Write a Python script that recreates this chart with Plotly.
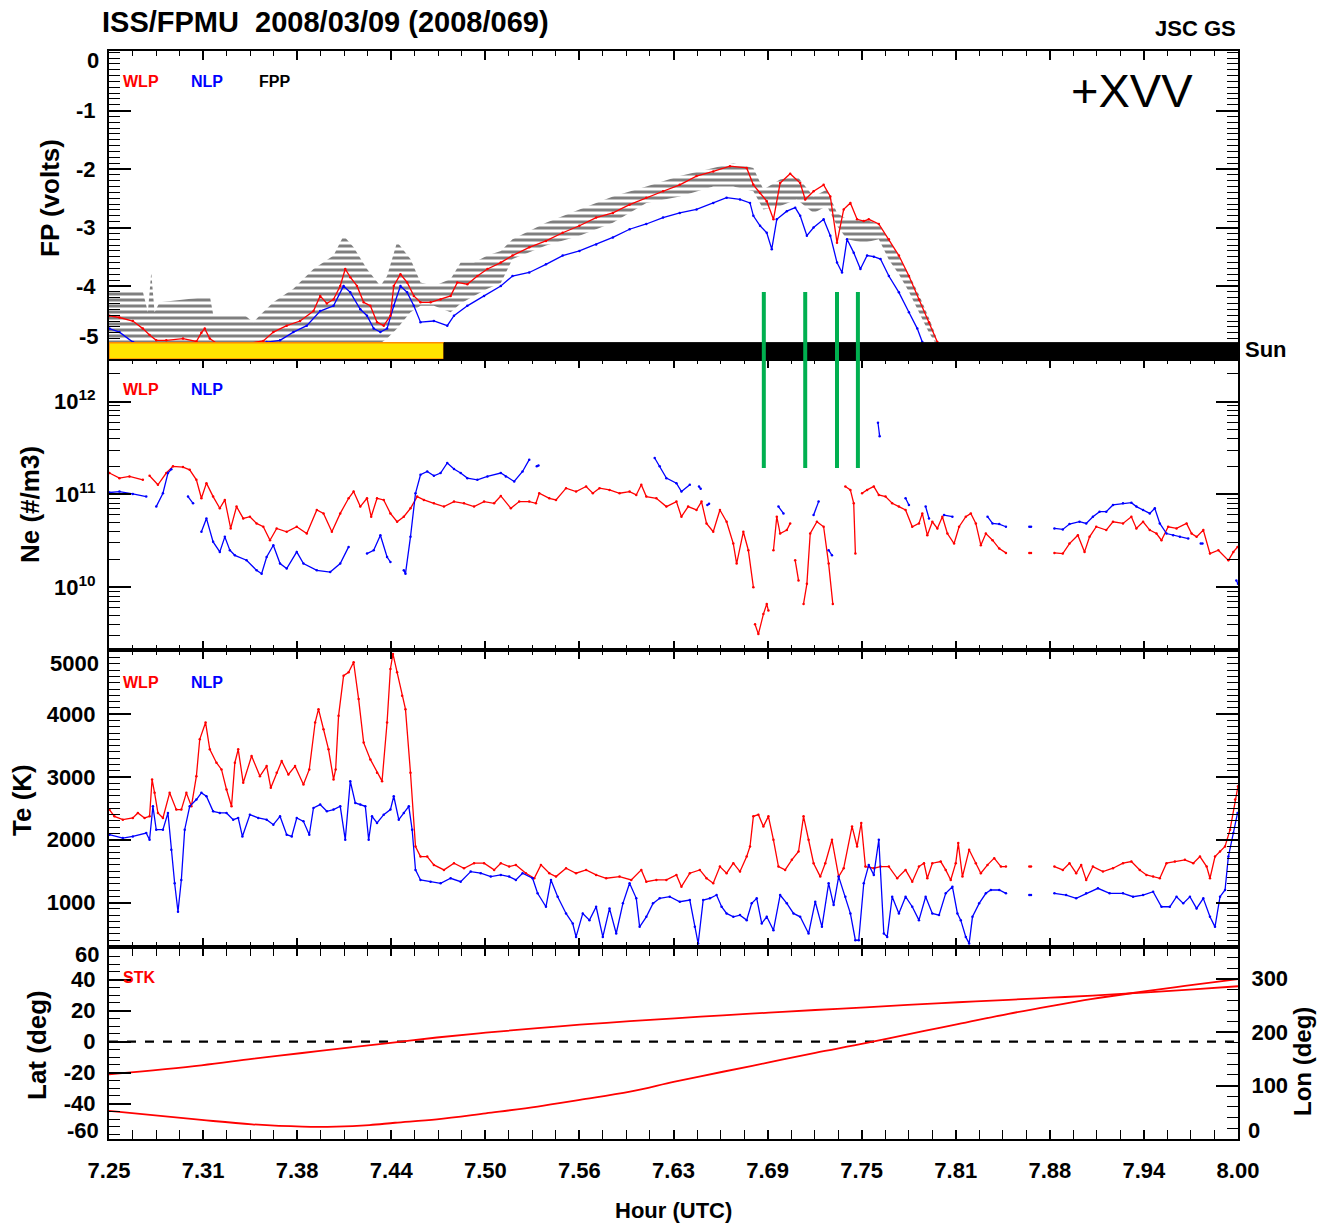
import plotly.graph_objects as go

# ---------------------------------------------------------------------------
# ISS/FPMU, 2008/03/09 (day 069).  Times are seconds after 07:15:00 UTC.
# ---------------------------------------------------------------------------
T0_HOUR = 7.25
T_END_HOUR = 8.00

x_tick_labels = ["7.25", "7.31", "7.38", "7.44", "7.50", "7.56", "7.63",
                 "7.69", "7.75", "7.81", "7.88", "7.94", "8.00"]

# Floating potential (V): (t, value); (None, None) marks a data gap
fp_wlp = [(1, -4.51), (25, -4.54), (57, -4.60), (81, -4.73), (97, -4.84), (113, -4.93), (137, -4.93),
          (177, -4.90), (209, -4.95), (221, -4.80), (229, -4.73), (241, -4.90), (257, -4.98), (297, -4.98),
          (337, -4.98), (369, -4.94), (393, -4.79), (425, -4.68), (457, -4.60), (489, -4.43), (505, -4.17),
          (521, -4.30), (537, -4.23), (553, -4.00), (565, -3.71), (577, -3.85), (593, -4.00), (609, -4.28),
          (625, -4.34), (641, -4.62), (657, -4.68), (673, -4.51), (681, -4.00), (697, -3.80), (713, -3.94),
          (729, -4.17), (745, -4.28), (769, -4.28), (793, -4.23), (817, -4.17), (833, -3.94), (857, -3.97),
          (881, -3.83), (905, -3.71), (937, -3.60), (965, -3.48), (1005, -3.34), (1045, -3.23), (1085, -3.09),
          (1125, -2.97), (1165, -2.83), (1205, -2.75), (1245, -2.61), (1285, -2.49), (1325, -2.38),
          (1365, -2.27), (1405, -2.12), (1445, -2.04), (1485, -1.95), (1525, -1.98), (1541, -2.27),
          (1557, -2.41), (1573, -2.55), (1589, -2.86), (1605, -2.24), (1629, -2.08), (1653, -2.24),
          (1665, -2.52), (1685, -2.38), (1709, -2.27), (1725, -2.47), (1741, -3.26), (1757, -2.69),
          (1773, -2.58), (1789, -2.86), (1805, -2.89), (1817, -2.86), (1841, -2.94), (1865, -3.20),
          (1889, -3.48), (1913, -3.83), (1937, -4.23), (1961, -4.62), (1981, -4.96)]

fp_nlp = [(1, -4.73), (25, -4.79), (57, -4.96), (81, -4.99), (None, None), (377, -4.96), (409, -4.93),
          (441, -4.79), (473, -4.68), (505, -4.43), (537, -4.34), (561, -4.00), (577, -4.11), (601, -4.40),
          (617, -4.51), (633, -4.73), (649, -4.79), (665, -4.73), (681, -4.34), (697, -4.00), (713, -4.11),
          (729, -4.34), (745, -4.62), (777, -4.60), (809, -4.68), (825, -4.51), (857, -4.34), (897, -4.17),
          (937, -4.00), (965, -3.83), (1005, -3.77), (1045, -3.63), (1085, -3.48), (1125, -3.40),
          (1165, -3.29), (1205, -3.17), (1245, -3.03), (1285, -2.94), (1325, -2.83), (1365, -2.75),
          (1405, -2.69), (1445, -2.58), (1477, -2.49), (1509, -2.52), (1533, -2.58), (1541, -2.80),
          (1557, -2.97), (1573, -3.09), (1585, -3.37), (1597, -2.86), (1621, -2.72), (1641, -2.66),
          (1653, -2.80), (1669, -3.14), (1685, -3.00), (1709, -2.86), (1725, -3.14), (1741, -3.60),
          (1753, -3.77), (1765, -3.20), (1781, -3.43), (1797, -3.71), (1813, -3.48), (1829, -3.50),
          (1845, -3.54), (1865, -3.83), (1889, -4.11), (1913, -4.45), (1933, -4.73), (1945, -4.96)]

# FPP spread: (t, upper, lower) in volts
fp_fpp_band = [(0, -4.10, -4.98), (81, -4.10, -4.98), (93, -4.45, -4.98), (101, -3.77, -4.98),
               (109, -4.45, -4.98), (121, -4.28, -4.98), (217, -4.20, -4.98), (241, -4.17, -4.98),
               (249, -4.48, -4.98), (321, -4.48, -4.98), (345, -4.62, -4.98), (361, -4.50, -4.98),
               (393, -4.28, -4.98), (441, -4.05, -4.98), (489, -3.71, -4.98), (537, -3.48, -4.98),
               (561, -3.14, -4.98), (585, -3.34, -4.98), (617, -3.71, -4.98), (649, -4.00, -4.98),
               (665, -3.83, -4.90), (689, -3.25, -4.73), (721, -3.54, -4.45), (745, -3.94, -4.34),
               (777, -4.00, -4.34), (817, -3.88, -4.45), (841, -3.60, -4.30), (873, -3.60, -4.17),
               (905, -3.48, -4.05), (937, -3.40, -3.95), (965, -3.20, -3.54), (1045, -2.92, -3.31),
               (1125, -2.69, -3.14), (1205, -2.47, -2.92), (1285, -2.30, -2.58), (1365, -2.12, -2.47),
               (1445, -1.98, -2.30), (1493, -1.90, -2.30), (1541, -1.98, -2.38), (1565, -2.35, -2.69),
               (1605, -2.18, -2.63), (1645, -2.12, -2.52), (1685, -2.47, -2.75), (1717, -2.35, -2.63),
               (1741, -2.75, -2.97), (1765, -2.86, -3.20), (1805, -2.86, -3.26), (1841, -2.94, -3.20),
               (1865, -3.20, -3.55), (1889, -3.50, -3.80), (1913, -3.80, -4.10), (1937, -4.15, -4.45),
               (1961, -4.55, -4.80), (1977, -4.85, -4.98)]

# Electron density, log10(Ne / m^-3)
ne_wlp_log10 = [(1, 11.23), (25, 11.175), (49, 11.193), (81, 11.157), (None, None), (97, 11.20), (117, 11.103),
                (137, 11.23), (153, 11.302), (177, 11.294), (193, 11.265), (209, 11.157), (221, 10.958),
                (233, 11.121), (249, 10.976), (265, 10.85), (277, 10.94), (291, 10.633), (305, 10.868),
                (321, 10.741), (337, 10.759), (353, 10.687), (369, 10.651), (385, 10.506), (401, 10.633),
                (425, 10.597), (449, 10.651), (473, 10.578), (497, 10.832), (513, 10.795), (533, 10.597),
                (553, 10.795), (573, 10.958), (585, 11.03), (601, 10.868), (617, 10.958), (627, 10.759),
                (641, 10.958), (657, 10.94), (673, 10.795), (689, 10.705), (705, 10.759), (721, 10.85),
                (737, 10.976), (753, 10.94), (777, 10.904), (801, 10.868), (825, 10.922), (849, 10.904),
                (873, 10.868), (897, 10.922), (921, 10.904), (937, 10.983), (961, 10.85), (981, 10.922),
                (1005, 10.922), (1021, 10.904), (1029, 11.012), (1053, 10.958), (1069, 10.94), (1093, 11.067),
                (1117, 11.03), (1141, 11.085), (1157, 11.012), (1173, 11.067), (1197, 11.048), (1221, 11.012),
                (1245, 11.03), (1261, 10.994), (1273, 11.103), (1285, 10.976), (1309, 10.958), (1333, 10.868),
                (1357, 10.922), (1369, 10.759), (1385, 10.868), (1405, 10.832), (1417, 10.922), (1429, 10.687),
                (1445, 10.597), (1461, 10.832), (1477, 10.705), (1493, 10.47), (1501, 10.254), (1517, 10.597),
                (1529, 10.398), (1541, 10.0), (None, None), (1545, 9.6), (1553, 9.494), (1565, 9.71),
                (1573, 9.819), (1577, 9.747), (None, None), (1589, 10.398), (1597, 10.759), (1605, 10.578),
                (1621, 10.615), (1629, 10.687), (None, None), (1641, 10.289), (1649, 10.072), (None, None),
                (1661, 9.819), (1669, 10.036), (1677, 10.578), (1693, 10.705), (1709, 10.651), (1721, 10.254),
                (1731, 9.819), (None, None), (1761, 11.085), (1773, 11.048), (1781, 10.904), (1785, 10.362),
                (None, None), (1801, 11.012), (1813, 11.048), (1829, 11.085), (1841, 10.994), (1857, 10.976),
                (1873, 10.904), (1889, 10.868), (1905, 10.832), (1921, 10.651), (1937, 10.687), (1945, 10.795),
                (1957, 10.56), (1969, 10.705), (1981, 10.633), (1993, 10.759), (2005, 10.578), (2021, 10.47),
                (2033, 10.651), (2049, 10.759), (2061, 10.795), (2073, 10.687), (2085, 10.452), (2097, 10.578),
                (2113, 10.506), (2129, 10.416), (2145, 10.369), (None, None), (2201, 10.369), (2205, 10.369),
                (None, None), (2261, 10.369), (2281, 10.362), (2297, 10.47), (2317, 10.56), (2333, 10.38),
                (2345, 10.542), (2361, 10.651), (2385, 10.615), (2401, 10.705), (2425, 10.687), (2445, 10.759),
                (2457, 10.633), (2473, 10.705), (2489, 10.615), (2505, 10.578), (2517, 10.506), (2533, 10.651),
                (2553, 10.633), (2577, 10.687), (2589, 10.578), (2601, 10.542), (2617, 10.615), (2633, 10.362),
                (2653, 10.398), (2677, 10.289), (2689, 10.38), (2699, 10.434)]

ne_nlp_log10 = [(1, 11.02), (25, 11.03), (57, 11.005), (89, 10.976), (None, None), (113, 10.868), (129, 11.012),
                (141, 11.23), (149, 11.27), (None, None), (189, 10.976), (201, 10.904), (None, None),
                (221, 10.597), (233, 10.741), (249, 10.488), (265, 10.38), (277, 10.542), (289, 10.398),
                (301, 10.343), (329, 10.29), (353, 10.181), (365, 10.145), (377, 10.325), (393, 10.452),
                (409, 10.254), (425, 10.20), (449, 10.38), (465, 10.254), (497, 10.181), (529, 10.163),
                (553, 10.254), (573, 10.434), (None, None), (617, 10.362), (633, 10.398), (649, 10.56),
                (665, 10.325), (673, 10.271), (None, None), (705, 10.181), (709, 10.145), (721, 10.542),
                (733, 11.012), (745, 11.211), (761, 11.247), (777, 11.20), (793, 11.23), (809, 11.338),
                (825, 11.273), (841, 11.23), (857, 11.175), (881, 11.157), (905, 11.193), (937, 11.23),
                (949, 11.193), (969, 11.139), (989, 11.247), (1005, 11.374), (None, None), (1023, 11.302),
                (1027, 11.31), (None, None), (1305, 11.392), (1317, 11.302), (1333, 11.175), (1357, 11.121),
                (1369, 11.03), (1389, 11.103), (None, None), (1411, 11.085), (1415, 11.06), (None, None),
                (1431, 10.886), (1435, 10.9), (None, None), (1601, 10.868), (1613, 10.795), (None, None),
                (1685, 10.777), (1697, 10.922), (None, None), (1721, 10.398), (1729, 10.343), (None, None),
                (1839, 11.772), (1843, 11.627), (None, None), (1905, 10.958), (1913, 10.886), (None, None),
                (1953, 10.868), (1961, 10.741), (None, None), (1997, 10.777), (2017, 10.759), (None, None),
                (2101, 10.759), (2113, 10.687), (2129, 10.68), (2145, 10.651), (None, None), (2201, 10.651),
                (2205, 10.651), (None, None), (2261, 10.633), (2281, 10.622), (2297, 10.68), (2321, 10.705),
                (2337, 10.687), (2353, 10.759), (2369, 10.814), (2385, 10.814), (2401, 10.886), (2425, 10.904),
                (2445, 10.911), (2457, 10.868), (2473, 10.832), (2489, 10.795), (2501, 10.85), (2513, 10.687),
                (2529, 10.578), (2545, 10.56), (2561, 10.542), (2581, 10.524), (None, None), (2611, 10.47),
                (2615, 10.47), (None, None), (2696, 10.072), (2700, 10.036)]

# Electron temperature (K)
te_wlp = [(1, 2480), (13, 2373), (33, 2320), (57, 2347), (69, 2427), (85, 2347), (97, 2373), (103, 2960),
          (109, 2747), (117, 2427), (129, 2347), (145, 2747), (161, 2480), (173, 2480), (185, 2747), (197, 2533),
          (209, 3013), (217, 3600), (231, 3867), (241, 3440), (257, 3227), (269, 3120), (281, 2800), (293, 2533),
          (301, 3227), (309, 3440), (321, 2907), (341, 3333), (361, 3013), (377, 3173), (387, 2827), (401, 3067),
          (413, 3253), (429, 3040), (445, 3173), (465, 2880), (479, 3120), (493, 3867), (501, 4080), (513, 3760),
          (525, 3440), (537, 2960), (542, 3120), (549, 3973), (561, 4613), (573, 4667), (585, 4827), (597, 4240),
          (609, 3547), (625, 3280), (641, 3067), (653, 2933), (665, 3867), (673, 4720), (679, 4960), (689, 4667),
          (701, 4293), (709, 4080), (721, 3067), (733, 1893), (745, 1733), (761, 1733), (777, 1600), (801, 1520),
          (825, 1627), (849, 1547), (873, 1627), (897, 1627), (921, 1520), (937, 1627), (957, 1573), (973, 1600),
          (997, 1467), (1017, 1387), (1033, 1600), (1053, 1467), (1069, 1413), (1093, 1547), (1117, 1467),
          (1141, 1520), (1165, 1440), (1189, 1387), (1221, 1413), (1249, 1360), (1273, 1520), (1285, 1333),
          (1309, 1360), (1333, 1360), (1357, 1440), (1369, 1253), (1389, 1467), (1413, 1520), (1429, 1387),
          (1445, 1307), (1461, 1573), (1477, 1467), (1493, 1627), (1509, 1493), (1525, 1733), (1533, 1893),
          (1541, 2373), (1553, 2400), (1565, 2213), (1577, 2373), (1589, 2000), (1601, 1573), (1617, 1520),
          (1633, 1680), (1649, 1813), (1661, 2373), (1673, 2000), (1685, 1627), (1701, 1413), (1713, 1627),
          (1729, 2000), (1745, 1413), (1757, 1547), (1777, 2213), (1789, 1893), (1799, 2267), (1809, 1573),
          (1829, 1547), (1845, 1573), (1865, 1573), (1885, 1387), (1905, 1520), (1921, 1333), (1937, 1573),
          (1949, 1627), (1957, 1387), (1969, 1627), (1989, 1653), (2001, 1520), (2013, 1360), (2025, 1627),
          (2031, 1947), (2041, 1413), (2057, 1840), (2073, 1627), (2085, 1467), (2101, 1600), (2117, 1707),
          (2133, 1573), (2145, 1573), (None, None), (2201, 1573), (2205, 1573), (None, None), (2261, 1573),
          (2281, 1520), (2297, 1627), (2313, 1467), (2325, 1600), (2337, 1360), (2353, 1573), (2377, 1493),
          (2401, 1547), (2425, 1627), (2445, 1653), (2465, 1520), (2481, 1440), (2497, 1413), (2513, 1387),
          (2529, 1627), (2549, 1653), (2573, 1680), (2593, 1627), (2609, 1733), (2625, 1573), (2633, 1387),
          (2645, 1733), (2657, 1813), (2669, 1893), (2681, 2160), (2693, 2640), (2700, 2853)]

te_nlp = [(1, 2080), (33, 2027), (57, 2053), (89, 2107), (97, 2000), (105, 2533), (113, 2160), (129, 2160),
          (141, 2427), (149, 1840), (157, 1307), (165, 853), (173, 1360), (181, 2160), (193, 2533), (209, 2640),
          (221, 2747), (233, 2693), (249, 2453), (265, 2427), (281, 2427), (297, 2320), (309, 2347), (319, 2053),
          (337, 2400), (357, 2347), (377, 2320), (393, 2240), (409, 2373), (425, 2080), (437, 2053), (449, 2347),
          (465, 2293), (479, 2080), (489, 2507), (505, 2560), (521, 2453), (537, 2480), (553, 2533), (565, 2000),
          (577, 2933), (589, 2587), (601, 2560), (613, 2533), (621, 2000), (629, 2373), (641, 2267), (657, 2400),
          (673, 2480), (681, 2693), (693, 2320), (705, 2427), (717, 2533), (725, 2160), (733, 1520), (745, 1360),
          (769, 1333), (793, 1307), (817, 1387), (841, 1333), (865, 1493), (889, 1467), (913, 1413), (937, 1440),
          (957, 1413), (973, 1360), (989, 1467), (1013, 1387), (1025, 1147), (1045, 933), (1057, 1360),
          (1073, 1093), (1093, 827), (1109, 667), (1117, 453), (1133, 827), (1149, 720), (1165, 933), (1181, 453),
          (1197, 907), (1213, 507), (1229, 987), (1245, 1307), (1261, 1067), (1269, 613), (1285, 773),
          (1301, 987), (1317, 1067), (1341, 1093), (1365, 1013), (1389, 1040), (1401, 613), (1409, 347),
          (1421, 1040), (1437, 1067), (1453, 1120), (1465, 933), (1477, 827), (1493, 773), (1509, 800),
          (1525, 720), (1537, 987), (1549, 1067), (1561, 667), (1573, 773), (1589, 560), (1605, 1120),
          (1621, 987), (1637, 827), (1653, 773), (1673, 507), (1689, 1013), (1705, 613), (1721, 1307),
          (1733, 960), (1745, 1413), (1761, 1093), (1773, 827), (1785, 400), (1793, 400), (1805, 1307),
          (1817, 1600), (1829, 1440), (1841, 2000), (1853, 507), (1861, 453), (1873, 1093), (1889, 827),
          (1905, 1093), (1921, 933), (1937, 720), (1953, 1093), (1969, 827), (1985, 800), (2001, 1147),
          (2017, 1253), (2029, 827), (2037, 720), (2049, 453), (2057, 347), (2065, 773), (2081, 987),
          (2097, 1147), (2109, 1200), (2129, 1200), (2145, 1147), (None, None), (2201, 1120), (2205, 1120),
          (None, None), (2261, 1147), (2289, 1120), (2313, 1067), (2337, 1147), (2365, 1227), (2393, 1147),
          (2425, 1147), (2449, 1093), (2473, 1120), (2497, 1173), (2517, 933), (2537, 933), (2553, 1093),
          (2569, 987), (2585, 1093), (2601, 907), (2617, 1067), (2633, 773), (2645, 613), (2657, 1093),
          (2669, 1200), (2677, 1733), (2689, 2107), (2699, 2427)]

# STK ephemeris: geographic latitude and longitude (deg)
stk_lat = [(0, -44.7), (221, -50.5), (342, -53.3), (462, -54.8), (543, -54.8), (623, -53.8), (684, -52.3),
           (784, -50.1), (901, -46.2), (1025, -41.9), (1126, -37.6), (1246, -32.3), (1353, -25.8),
           (1468, -19.4), (1578, -13.4), (1689, -7.2), (1809, -1.0), (1950, 7.0), (2030, 11.3), (2151, 18.0),
           (2252, 23.0), (2352, 27.6), (2453, 31.6), (2573, 36.0), (2700, 40.4)]
stk_lon = [(0, 121), (221, 138), (342, 150), (462, 161), (583, 172), (684, 181), (784, 190), (901, 199),
           (1025, 207.5), (1126, 214), (1246, 220.5), (1353, 226), (1468, 231.5), (1578, 236.5), (1689, 241.5),
           (1809, 246.5), (1910, 251), (2030, 256), (2151, 260.5), (2252, 264.5), (2352, 268.5), (2473, 274),
           (2593, 280), (2700, 286)]

# Sunlit until this time, eclipse afterwards (s)
sun_to_shadow_s = 801
# Event markers (s)
event_times_s = [1566, 1665, 1741, 1791]


def to_hours(ts):
    return [None if t is None else T0_HOUR + t / 3600.0 for t in ts]


def unpack(pairs):
    return to_hours([p[0] for p in pairs]), [p[1] for p in pairs]


RED = "#ff0000"
BLUE = "#0000ff"
GREEN = "#00b050"
SANS = "Liberation Sans, Arial, Helvetica, sans-serif"

fig = go.Figure()


def series(pairs, color, xa, ya, transform=None, width=1.3):
    xs, ys = unpack(pairs)
    if transform is not None:
        ys = [None if v is None else transform(v) for v in ys]
    fig.add_trace(go.Scatter(x=xs, y=ys, mode="lines+markers", xaxis=xa, yaxis=ya,
                             line=dict(color=color, width=width),
                             marker=dict(color=color, size=2.5),
                             connectgaps=False, showlegend=False, hoverinfo="skip"))


# Panel 1: FPP spread drawn as horizontally hatched band
band_t = to_hours([b[0] for b in fp_fpp_band])
band_up = [b[1] for b in fp_fpp_band]
band_lo = [b[2] for b in fp_fpp_band]
fig.add_trace(go.Scatter(x=band_t + band_t[::-1], y=band_up + band_lo[::-1], mode="lines",
                         xaxis="x", yaxis="y", fill="toself", fillcolor="rgba(0,0,0,0)",
                         fillpattern=dict(shape="-", size=6, solidity=0.5, fgcolor="black"),
                         line=dict(width=0), showlegend=False, hoverinfo="skip"))
series(fp_nlp, BLUE, "x", "y")
series(fp_wlp, RED, "x", "y")

# Panel 2: densities
series(ne_wlp_log10, RED, "x2", "y2", transform=lambda v: 10 ** v)
series(ne_nlp_log10, BLUE, "x2", "y2", transform=lambda v: 10 ** v)

# Panel 3: temperatures
series(te_wlp, RED, "x3", "y3")
series(te_nlp, BLUE, "x3", "y3")

# Panel 4: latitude (left) and longitude (right)
fig.add_trace(go.Scatter(x=[T0_HOUR, T_END_HOUR], y=[0, 0], mode="lines", xaxis="x4", yaxis="y4",
                         line=dict(color="black", width=2.2, dash="dash"), showlegend=False, hoverinfo="skip"))
lat_x, lat_y = unpack(stk_lat)
fig.add_trace(go.Scatter(x=lat_x, y=lat_y, mode="lines", xaxis="x4", yaxis="y4",
                         line=dict(color=RED, width=1.8, shape="spline"), showlegend=False, hoverinfo="skip"))
lon_x, lon_y = unpack(stk_lon)
fig.add_trace(go.Scatter(x=lon_x, y=lon_y, mode="lines", xaxis="x4", yaxis="y5",
                         line=dict(color=RED, width=1.8, shape="spline"), showlegend=False, hoverinfo="skip"))

# ---------------------------------------------------------------------------
# Layout
# ---------------------------------------------------------------------------
W, H = 1317, 1225
ML, MR, MT, MB = 109, 79, 51, 86
PW, PH = W - ML - MR, H - MT - MB


def px_x(px):
    return (px - ML) / PW


def px_y(py):
    return (H - MB - py) / PH


d1 = [px_y(359), 1.0]
d2 = [px_y(649.5), px_y(359)]
d3 = [px_y(946.7), px_y(649.5)]
d4 = [0.0, px_y(946.7)]

tick_font = dict(family=SANS, size=22, color="black", weight="bold")
major_x = [T0_HOUR + 0.0625 * i for i in range(len(x_tick_labels))]


def xaxis(anchor, show_labels=False):
    return dict(anchor=anchor, domain=[0, 1], range=[T0_HOUR, T_END_HOUR], tickmode="array",
                tickvals=major_x, ticktext=x_tick_labels, ticks="inside", ticklen=9, tickwidth=1.5,
                tickcolor="black", showline=True, linecolor="black", linewidth=2, mirror="allticks",
                showgrid=False, zeroline=False, showticklabels=show_labels, tickfont=tick_font,
                ticklabelstandoff=11,
                minor=dict(tickmode="linear", tick0=T0_HOUR, dtick=0.015625, ticks="inside",
                           ticklen=5, tickwidth=1.2, tickcolor="black", showgrid=False))


def yaxis(domain, anchor="x", **kw):
    base = dict(anchor=anchor, domain=domain, ticks="inside", ticklen=22, tickwidth=1.5, tickcolor="black",
                showline=True, linecolor="black", linewidth=2, mirror="allticks", showgrid=False,
                zeroline=False, tickfont=tick_font, ticklabelstandoff=7)
    base.update(kw)
    return base


log_minor = [m * 10 ** e for e in range(9, 13) for m in range(2, 10)]

# Labels at the very ends of an axis are written separately, nudged inside the frame
fig.update_layout(
    width=W, height=H, margin=dict(l=ML, r=MR, t=MT, b=MB),
    paper_bgcolor="white", plot_bgcolor="white", showlegend=False,
    xaxis=xaxis("y"), xaxis2=xaxis("y2"), xaxis3=xaxis("y3"), xaxis4=xaxis("y4", True),
    yaxis=yaxis(d1, "x", range=[-5.25, 0.02], tickmode="array", tickvals=[-1, -2, -3, -4],
                ticktext=["-1", "-2", "-3", "-4"],
                minor=dict(tickmode="linear", tick0=0, dtick=0.1, ticks="inside", ticklen=11,
                           tickwidth=1.2, tickcolor="black")),
    yaxis2=yaxis(d2, "x2", type="log", range=[9.328, 12.459], tickmode="array",
                 tickvals=[1e10, 1e11, 1e12], ticktext=["10<sup>10</sup>", "10<sup>11</sup>", "10<sup>12</sup>"],
                 minor=dict(tickmode="array", tickvals=log_minor, ticks="inside", ticklen=11,
                            tickwidth=1.2, tickcolor="black")),
    yaxis3=yaxis(d3, "x3", range=[297, 5030], tickmode="array", tickvals=[1000, 2000, 3000, 4000],
                 minor=dict(tickmode="linear", tick0=0, dtick=100, ticks="inside", ticklen=11,
                            tickwidth=1.2, tickcolor="black")),
    yaxis4=yaxis(d4, "x4", range=[-62.8, 61.3], mirror=False, tickmode="array",
                 tickvals=[-40, -20, 0, 20, 40], ticktext=["-40", "-20", "0", "20", "40"],
                 minor=dict(tickmode="linear", tick0=0, dtick=5, ticks="inside", ticklen=11,
                            tickwidth=1.2, tickcolor="black")),
    yaxis5=dict(anchor="x4", overlaying="y4", side="right", range=[0, 360], tickmode="array",
                tickvals=[100, 200, 300], ticks="inside", ticklen=22, tickwidth=1.5, tickcolor="black",
                showline=True, linecolor="black", linewidth=2, showgrid=False, zeroline=False,
                tickfont=tick_font, ticklabelstandoff=7,
                minor=dict(tickmode="linear", tick0=0, dtick=20, ticks="inside", ticklen=11,
                           tickwidth=1.2, tickcolor="black")),
)

# Sunlit / eclipse bar along the bottom of the potential panel
sun_edge = T0_HOUR + sun_to_shadow_s / 3600.0
shapes = [
    dict(type="rect", xref="x", yref="y", x0=T0_HOUR, x1=sun_edge, y0=-5.25, y1=-4.97,
         fillcolor="#ffe400", line=dict(color="#ff8c00", width=1.5), layer="above"),
    dict(type="rect", xref="x", yref="y", x0=sun_edge, x1=T_END_HOUR, y0=-5.25, y1=-4.97,
         fillcolor="black", line=dict(color="black", width=1), layer="above"),
]
for t in event_times_s:
    xh = T0_HOUR + t / 3600.0
    shapes.append(dict(type="line", xref="x", yref="paper", x0=xh, x1=xh, y0=px_y(468), y1=px_y(292),
                       line=dict(color=GREEN, width=4), layer="above"))
fig.update_layout(shapes=shapes)

lab = dict(family=SANS, size=16, weight="bold")


def text(x, y, s, font, xanchor="left", yanchor="middle", angle=0):
    return dict(xref="paper", yref="paper", x=x, y=y, text=s, showarrow=False, font=font,
                xanchor=xanchor, yanchor=yanchor, textangle=angle)


title_font = dict(family=SANS, size=29, color="black", weight="bold")
axis_title_font = dict(family=SANS, size=26, color="black", weight="bold")

annotations = [
    text(px_x(100), px_y(22), "ISS/FPMU  2008/03/09 (2008/069)", title_font),
    text(1.0, px_y(29), "JSC GS", dict(family=SANS, size=22, color="black", weight="bold"), xanchor="right"),
    text(px_x(1132), px_y(91), "+XVV", dict(family=SANS, size=47, color="black"), xanchor="center"),
    text(px_x(121), px_y(81), "WLP", dict(lab, color=RED)),
    text(px_x(189), px_y(81), "NLP", dict(lab, color=BLUE)),
    text(px_x(257), px_y(81), "FPP", dict(lab, color="black")),
    text(px_x(121), px_y(389), "WLP", dict(lab, color=RED)),
    text(px_x(189), px_y(389), "NLP", dict(lab, color=BLUE)),
    text(px_x(121), px_y(683), "WLP", dict(lab, color=RED)),
    text(px_x(189), px_y(683), "NLP", dict(lab, color=BLUE)),
    text(px_x(121), px_y(977), "STK", dict(lab, color=RED)),
    text(px_x(1243), px_y(350), "Sun", dict(family=SANS, size=22, color="black", weight="bold")),
    text(px_x(673), px_y(1210), "Hour (UTC)", dict(family=SANS, size=22, color="black", weight="bold"),
         xanchor="center"),
    text(px_x(50), px_y(198), "FP (volts)", axis_title_font, xanchor="center", angle=-90),
    text(px_x(30), px_y(505), "Ne (#/m3)", axis_title_font, xanchor="center", angle=-90),
    text(px_x(22), px_y(800), "Te (K)", axis_title_font, xanchor="center", angle=-90),
    text(px_x(37), px_y(1045), "Lat (deg)", axis_title_font, xanchor="center", angle=-90),
    text(px_x(1302), px_y(1062), "Lon (deg)", dict(axis_title_font, size=24), xanchor="center", angle=-90),
    # end-of-axis tick labels
    text(px_x(101), px_y(61), "0", tick_font, xanchor="right"),
    text(px_x(101), px_y(337), "-5", tick_font, xanchor="right"),
    text(px_x(101), px_y(663), "5000", tick_font, xanchor="right"),
    text(px_x(101), px_y(955), "60", tick_font, xanchor="right"),
    text(px_x(101), px_y(1130), "-60", tick_font, xanchor="right"),
    text(px_x(1246), px_y(1130), "0", tick_font, xanchor="left"),
]
fig.update_layout(annotations=annotations)

fig.write_html("out.html")
